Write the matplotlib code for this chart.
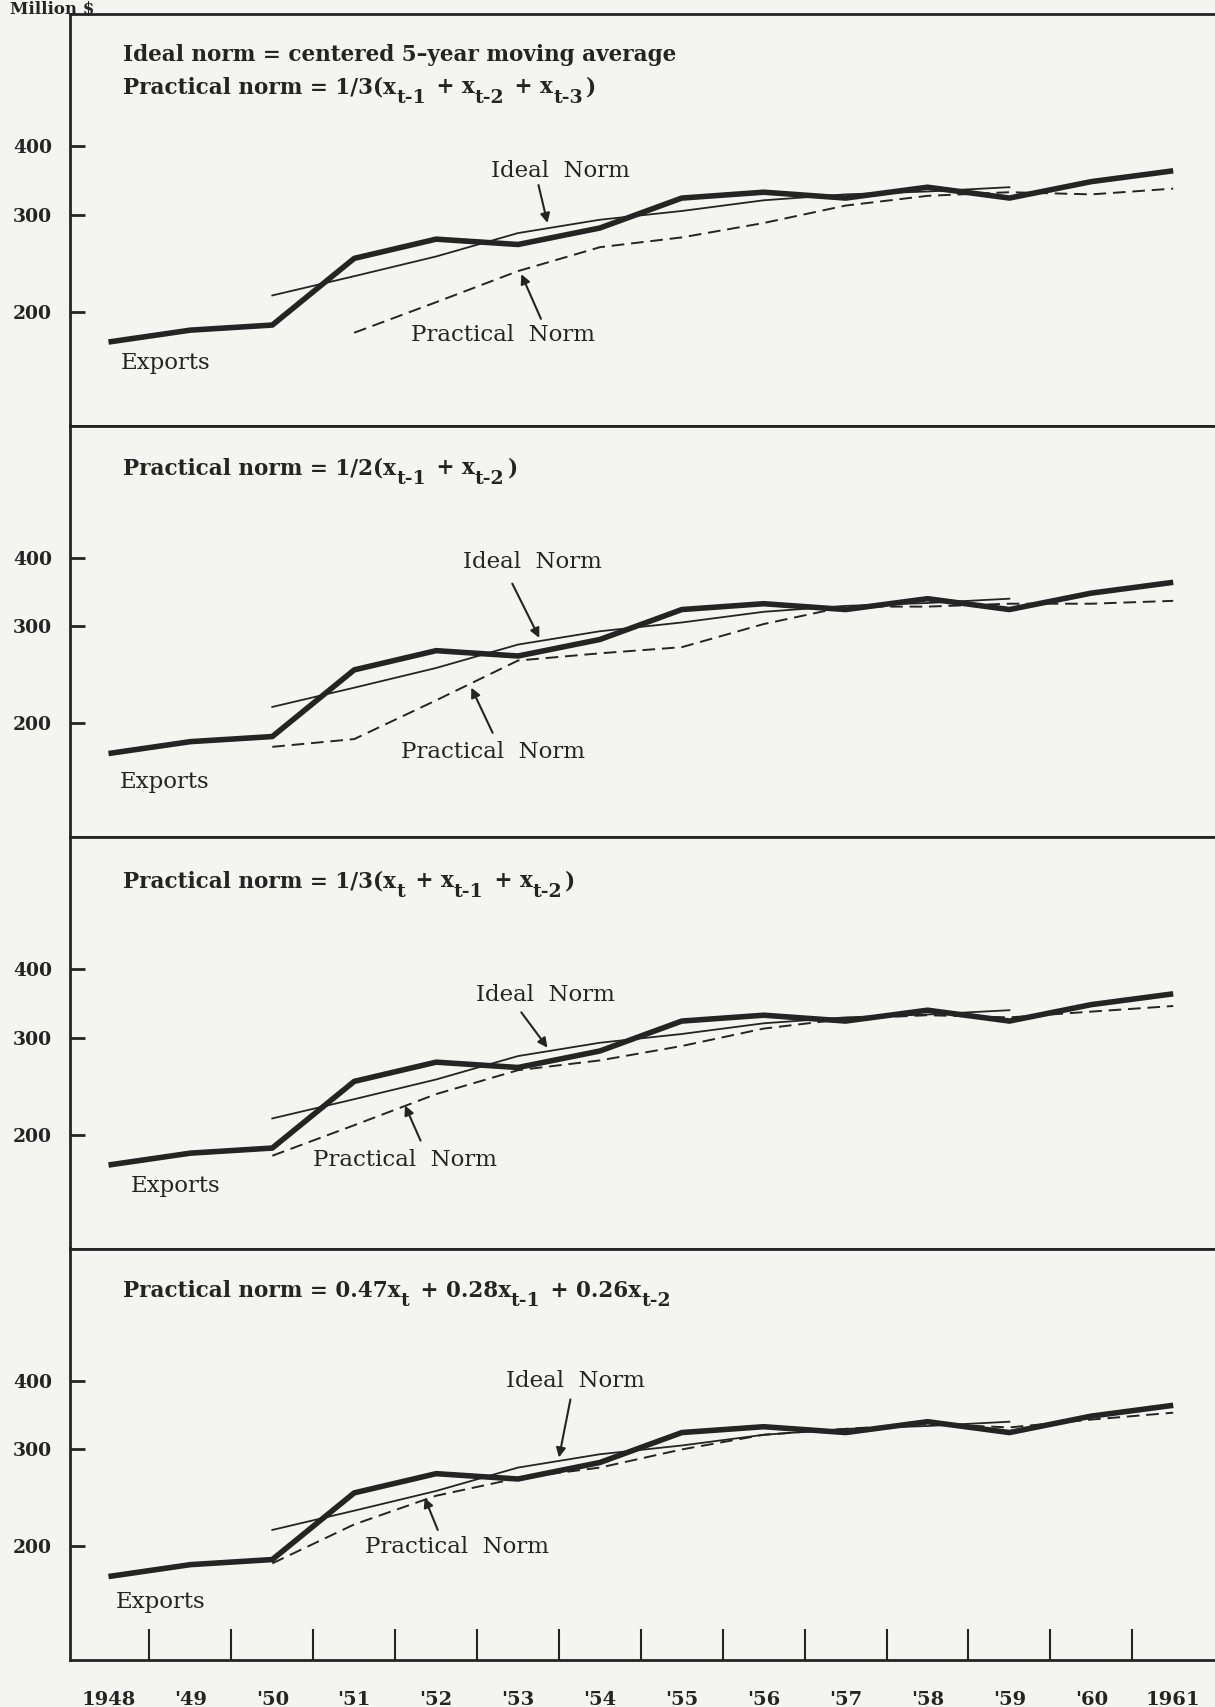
import numpy as np
import matplotlib
matplotlib.use('Agg')
import matplotlib.pyplot as plt
from matplotlib.ticker import FixedLocator, NullLocator
from matplotlib.transforms import offset_copy

plt.rcParams['font.family'] = 'DejaVu Serif'

# data (million $)
years = list(range(1948, 1962))
exports = [176, 185, 189, 250, 271, 265, 284, 322, 330, 322, 337, 322, 345, 361]

ideal_years = list(range(1950, 1960))
ideal_norm = [214, 232, 252, 278, 294, 305, 319, 327, 331, 337]

prac_years_a = list(range(1951, 1962))
prac_a = [183, 208, 237, 262, 273, 290, 312, 325, 330, 327, 335]
prac_years_b = list(range(1950, 1962))
prac_b = [181, 187, 220, 260, 268, 275, 303, 326, 326, 330, 330, 334]
prac_years_c = list(range(1950, 1962))
prac_c = [183, 208, 237, 262, 273, 290, 312, 325, 330, 327, 335, 343]
prac_years_d = list(range(1950, 1962))
prac_d = [186, 219, 247, 266, 278, 300, 319, 327, 334, 329, 340, 350]

year_labels = ['1948', "'49", "'50", "'51", "'52", "'53", "'54", "'55",
               "'56", "'57", "'58", "'59", "'60", '1961']
y_ticks = [200, 300, 400]

# title pieces: (text, is_subscript)
titles = [
    [[('Ideal norm = centered 5\u2013year moving average', False)],
     [('Practical norm = 1/3(x', False), ('t-1', True), (' + x', False),
      ('t-2', True), (' + x', False), ('t-3', True), (')', False)]],
    [[('Practical norm = 1/2(x', False), ('t-1', True), (' + x', False),
      ('t-2', True), (')', False)]],
    [[('Practical norm = 1/3(x', False), ('t', True), (' + x', False),
      ('t-1', True), (' + x', False), ('t-2', True), (')', False)]],
    [[('Practical norm = 0.47x', False), ('t', True), (' + 0.28x', False),
      ('t-1', True), (' + 0.26x', False), ('t-2', True)]],
]
practical = [(prac_years_a, prac_a), (prac_years_b, prac_b),
             (prac_years_c, prac_c), (prac_years_d, prac_d)]

# label / arrow placement per panel (year, value)
ideal_txt = [(1953.52, 360), (1953.18, 393), (1953.33, 359), (1953.70, 400)]
ideal_arr = [((1953.25, 340), (1953.36, 290)), ((1952.93, 359), (1953.26, 286)),
             ((1953.04, 334), (1953.36, 288)), ((1953.64, 370), (1953.50, 290))]
prac_txt = [(1952.82, 181), (1952.69, 177), (1951.62, 180), (1952.26, 199)]
prac_arr = [((1953.28, 194), (1953.04, 234)), ((1952.69, 192), (1952.43, 232)),
            ((1951.81, 195), (1951.62, 226)), ((1952.02, 214), (1951.86, 245))]
exp_txt = [(1948.70, 161), (1948.69, 156), (1948.82, 161), (1948.63, 158)]
title_y = [0.886, 0.881, 0.878, 0.883]

bg = '#f4f4f0'
ink = '#242424'
title_size = 15.5

fig, axes = plt.subplots(4, 1, figsize=(12.15, 17.07), dpi=100)
fig.patch.set_facecolor(bg)
fig.subplots_adjust(left=70/1215, right=1.0, top=1-14/1707, bottom=1-1660/1707, hspace=0)
renderer = fig.canvas.get_renderer()


def draw_title(ax, x, y, parts, size):
    dx = 0
    for s, sub in parts:
        fs = size * 0.88 if sub else size
        dy = -size * 0.45 * fig.dpi / 72 if sub else 0
        tr = offset_copy(ax.transAxes, fig=fig, x=dx, y=dy, units='dots')
        t = ax.text(x, y, s, transform=tr, fontsize=fs, fontweight='bold',
                    color=ink, ha='left', va='baseline')
        dx += t.get_window_extent(renderer).width + (3 if sub else 0)


for i, ax in enumerate(axes):
    ax.set_facecolor(bg)
    ax.set_yscale('log')
    ax.set_ylim(124, 697)
    ax.set_xlim(1947.53, 1961.51)

    px, py = practical[i]
    ax.plot(px, py, color=ink, lw=1.4, dashes=(6.5, 3.5))
    ax.plot(ideal_years, ideal_norm, color=ink, lw=1.3)
    ax.plot(years, exports, color=ink, lw=4.0, solid_capstyle='butt')

    for s in ['top', 'left', 'bottom']:
        ax.spines[s].set_linewidth(2)
        ax.spines[s].set_color(ink)
    ax.spines['right'].set_visible(False)

    ax.yaxis.set_major_locator(FixedLocator(y_ticks))
    ax.yaxis.set_minor_locator(NullLocator())
    ax.set_yticklabels([str(v) for v in y_ticks], fontweight='bold')
    ax.tick_params(axis='y', direction='in', length=11, width=2, pad=13,
                   labelsize=13.5, color=ink, labelcolor=ink)
    ax.tick_params(axis='x', which='both', bottom=False, labelbottom=False)

    for k, parts in enumerate(titles[i]):
        draw_title(ax, 0.0466, title_y[i] - k * 0.079, parts, title_size)

    ax.text(*ideal_txt[i], 'Ideal  Norm', fontsize=16.5, color=ink, ha='center', va='center')
    ax.text(*prac_txt[i], 'Practical  Norm', fontsize=16.5, color=ink, ha='center', va='center')
    ax.text(*exp_txt[i], 'Exports', fontsize=16.5, color=ink, ha='center', va='center')

    for tail, tip in [ideal_arr[i], prac_arr[i]]:
        ax.annotate('', xy=tip, xytext=tail,
                    arrowprops=dict(arrowstyle='-|>', color=ink, lw=1.5,
                                    mutation_scale=14, shrinkA=0, shrinkB=0))

bot = axes[-1]
bot.xaxis.set_major_locator(FixedLocator(years))
bot.set_xticklabels(year_labels, fontweight='bold')
bot.xaxis.set_minor_locator(FixedLocator([y + 0.5 for y in years[:-1]]))
bot.tick_params(axis='x', which='major', bottom=True, length=0, pad=22,
                labelbottom=True, labelsize=14, labelcolor=ink)
bot.tick_params(axis='x', which='minor', bottom=True, direction='in',
                length=22, width=1.5, color=ink)

fig.text(10/1215, 1 - 1/1707, 'Million $', fontsize=12, fontweight='bold',
         color=ink, ha='left', va='top')

fig.savefig('out.png', dpi=100, facecolor=bg)
